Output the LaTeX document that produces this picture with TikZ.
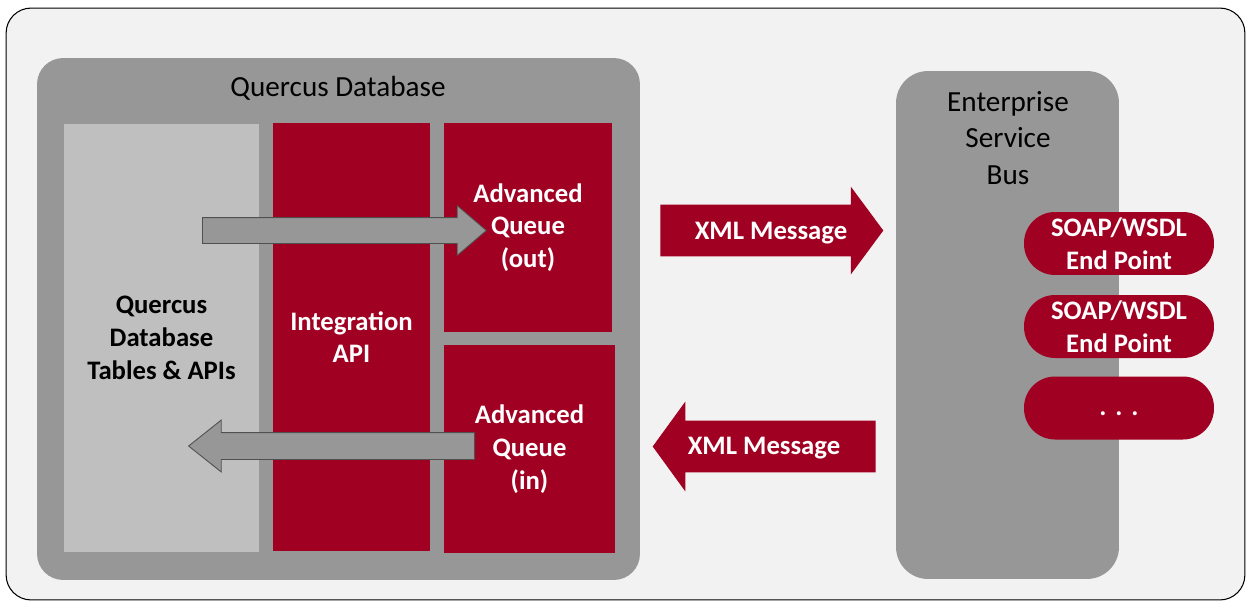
\documentclass[tikz,border=0pt]{standalone}
\usepackage{fontspec}
\setmainfont{Carlito}
\usetikzlibrary{positioning,shapes.arrows}
\definecolor{qred}{RGB}{160,0,33}
\definecolor{qgray}{RGB}{151,151,151}
\definecolor{qlight}{RGB}{191,191,191}
\definecolor{qback}{RGB}{242,242,242}
\definecolor{qdark}{RGB}{80,80,80}
\newcommand{\qbold}{\bfseries\fontsize{15.2}{18.6}\selectfont}
\newcommand{\qtitle}{\fontsize{16.6}{21}\selectfont}

\begin{document}
\begin{tikzpicture}[x=0.02cm, y=-0.02cm,
    area/.style={inner sep=0pt, outer sep=0pt, align=center},
    redarea/.style={area, fill=qred, text=white, font=\qbold},
    pill/.style={redarea, minimum width=3.8cm, minimum height=1.26cm, rounded corners=0.62cm},
    grayarrow/.style={single arrow, draw=qdark, line width=0.5pt, fill=qgray, inner xsep=0pt, anchor=tail},
    redarrow/.style={single arrow, fill=qred, inner xsep=0pt, inner ysep=0.51cm, anchor=tail, minimum height=4.46cm}]
  \useasboundingbox (0,0) rectangle (1247,602);
  % background frame
  \node[area, draw=black, line width=0.6pt, fill=qback, rounded corners=0.5cm,
    minimum width=24.78cm, minimum height=11.84cm] (frame) at (625.5,304) {};
  % Quercus side
  \node[area, fill=qgray, rounded corners=0.52cm,
    minimum width=12.06cm, minimum height=10.44cm] (db) at (338.5,319) {};
  \node[font=\qtitle] (dbtitle) at (338,88) {Quercus Database};
  \node[area, fill=qlight, font=\qbold, minimum width=3.9cm, minimum height=8.56cm]
    (tables) at (161.5,338) {Quercus\\Database\\Tables \& APIs};
  \node[redarea, minimum width=3.14cm, minimum height=8.56cm]
    (api) at (351.5,337) {Integration\\API};
  \node[redarea, minimum width=3.36cm, minimum height=4.18cm]
    (aqout) at (528,227.5) {Advanced\\Queue\\(out)};
  \node[redarea, minimum width=3.42cm, minimum height=4.16cm]
    (aqin) at (529.5,449) {Advanced\\Queue\\(in)};
  \node[grayarrow, minimum height=5.68cm, inner ysep=0.25cm,
    single arrow head extend=0.24cm, single arrow tip angle=81] (toout) at (202,230.5) {};
  \node[grayarrow, shape border rotate=180, minimum height=5.72cm, inner ysep=0.26cm,
    single arrow head extend=0.25cm, single arrow tip angle=77] (fromin) at (475,446) {};
  % messages
  \node[redarrow, single arrow head extend=0.36cm,
    single arrow tip angle=107] (msgout) at (660,230.5) {};
  \node[text=white, font=\qbold] at (771,233) {XML Message};
  \node[redarrow, shape border rotate=180,
    single arrow head extend=0.38cm, single arrow tip angle=108] (msgin) at (876,446.5) {};
  \node[text=white, font=\qbold] at (764,448) {XML Message};
  % service bus
  \node[area, fill=qgray, rounded corners=0.64cm,
    minimum width=4.46cm, minimum height=10.16cm] (esb) at (1007.5,325) {};
  \node[font=\qtitle, align=center] (esbtitle) at (1008,138) {Enterprise\\Service\\Bus};
  \node[pill] (soap1) at (1119,243.5) {SOAP/WSDL\\End Point};
  \node[pill] (soap2) at (1119,326.5) {SOAP/WSDL\\End Point};
  \node[pill] (more) at (1119,408) {\raisebox{-1.1ex}{.\,\,.\,\,.}};
\end{tikzpicture}
\end{document}
